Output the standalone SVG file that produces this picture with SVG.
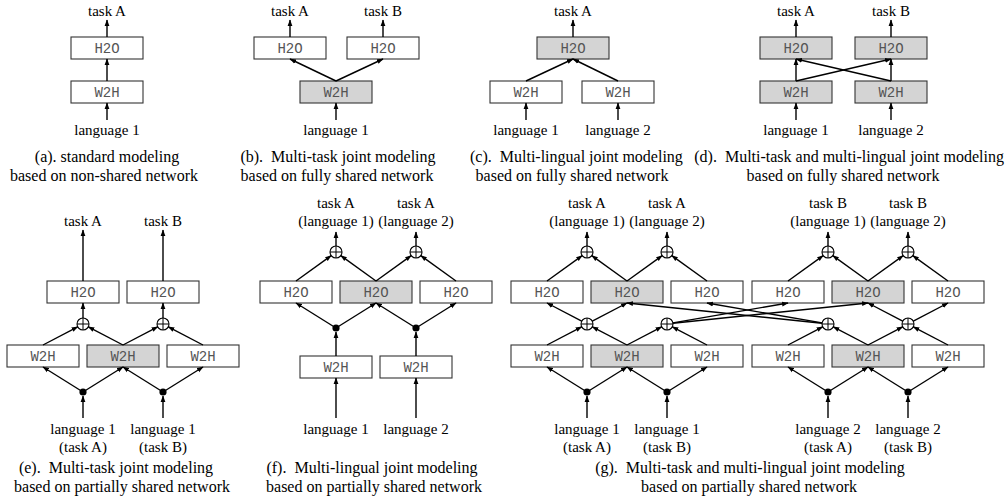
<svg xmlns="http://www.w3.org/2000/svg" width="1007" height="501" viewBox="0 0 1007 501">
<style>
.bx{fill:#fff;stroke:#333;stroke-width:1.1}
.sh{fill:#d4d4d4;stroke:#333;stroke-width:1.1}
.bl{font-family:"Liberation Mono",monospace;font-size:14px;fill:#555;text-anchor:middle}
.lb{font-family:"Liberation Serif",serif;font-size:15px;fill:#000;text-anchor:middle}
.cp{font-family:"Liberation Serif",serif;font-size:16px;fill:#000;text-anchor:middle}
.cn line{stroke:#000;stroke-width:1.4;marker-end:url(#ah)}
.pl{fill:#fff;stroke:#000;stroke-width:1.1}
.dt{fill:#000}
</style>
<defs>
<marker id="ah" markerWidth="8" markerHeight="6" refX="6" refY="3" orient="auto" markerUnits="userSpaceOnUse"><path d="M0,0.6 L6.5,3 L0,5.4 z" fill="#000"/></marker>
<g id="plus"><circle r="6" class="pl"/><line x1="-6" y1="0" x2="6" y2="0" stroke="#000" stroke-width="1"/><line x1="0" y1="-6" x2="0" y2="6" stroke="#000" stroke-width="1"/></g>
</defs>

<!-- (a) -->
<g id="a-h2o"><rect class="bx" x="71" y="37" width="72" height="22"/><text class="bl" x="107" y="53">H2O</text></g>
<g id="a-w2h"><rect class="bx" x="71" y="81" width="72" height="22"/><text class="bl" x="107" y="97">W2H</text></g>
<text class="lb" x="107" y="16">task A</text>
<text class="lb" x="107" y="135">language 1</text>
<text class="cp" x="107" y="162">(a). standard modeling</text>
<text class="cp" x="104" y="181">based on non-shared network</text>

<!-- (b) -->
<g id="b-h2o1"><rect class="bx" x="254" y="37" width="72" height="22"/><text class="bl" x="290" y="53">H2O</text></g>
<g id="b-h2o2"><rect class="bx" x="347" y="37" width="72" height="22"/><text class="bl" x="383" y="53">H2O</text></g>
<g id="b-w2h"><rect class="sh" x="300" y="81" width="72" height="22"/><text class="bl" x="336" y="97">W2H</text></g>
<text class="lb" x="290" y="16">task A</text>
<text class="lb" x="383" y="16">task B</text>
<text class="lb" x="336" y="135">language 1</text>
<text class="cp" x="338" y="162">(b).&#160; Multi-task joint modeling</text>
<text class="cp" x="337" y="181">based on fully shared network</text>

<!-- (c) -->
<g id="c-h2o"><rect class="sh" x="537" y="37" width="72" height="22"/><text class="bl" x="573" y="53">H2O</text></g>
<g id="c-w2h1"><rect class="bx" x="490" y="81" width="72" height="22"/><text class="bl" x="526" y="97">W2H</text></g>
<g id="c-w2h2"><rect class="bx" x="582" y="81" width="72" height="22"/><text class="bl" x="618" y="97">W2H</text></g>
<text class="lb" x="573" y="16">task A</text>
<text class="lb" x="526" y="135">language 1</text>
<text class="lb" x="618" y="135">language 2</text>
<text class="cp" x="470" y="162" style="text-anchor:start">(c).&#160; Multi-lingual joint modeling</text>
<text class="cp" x="572" y="181">based on fully shared network</text>

<!-- (d) -->
<g id="d-h2o1"><rect class="sh" x="760" y="37" width="72" height="22"/><text class="bl" x="796" y="53">H2O</text></g>
<g id="d-h2o2"><rect class="sh" x="855" y="37" width="72" height="22"/><text class="bl" x="891" y="53">H2O</text></g>
<g id="d-w2h1"><rect class="sh" x="760" y="81" width="72" height="22"/><text class="bl" x="796" y="97">W2H</text></g>
<g id="d-w2h2"><rect class="sh" x="855" y="81" width="72" height="22"/><text class="bl" x="891" y="97">W2H</text></g>
<text class="lb" x="796" y="16">task A</text>
<text class="lb" x="891" y="16">task B</text>
<text class="lb" x="796" y="135">language 1</text>
<text class="lb" x="891" y="135">language 2</text>
<text class="cp" x="1004" y="162" style="text-anchor:end">(d).&#160; Multi-task and multi-lingual joint modeling</text>
<text class="cp" x="843" y="181">based on fully shared network</text>

<!-- (e) -->
<g id="e-h2o1"><rect class="bx" x="47" y="281" width="72" height="22"/><text class="bl" x="83" y="297">H2O</text></g>
<g id="e-h2o2"><rect class="bx" x="127" y="281" width="72" height="22"/><text class="bl" x="163" y="297">H2O</text></g>
<g id="e-w2h1"><rect class="bx" x="7" y="345" width="72" height="22"/><text class="bl" x="43" y="361">W2H</text></g>
<g id="e-w2h2"><rect class="sh" x="87" y="345" width="72" height="22"/><text class="bl" x="123" y="361">W2H</text></g>
<g id="e-w2h3"><rect class="bx" x="167" y="345" width="72" height="22"/><text class="bl" x="203" y="361">W2H</text></g>
<g id="e-plus1"><use href="#plus" x="83" y="324"/></g>
<g id="e-plus2"><use href="#plus" x="163" y="324"/></g>
<g id="e-dot1"><circle class="dt" cx="83" cy="392" r="3.6"/></g>
<g id="e-dot2"><circle class="dt" cx="163" cy="392" r="3.6"/></g>
<text class="lb" x="83" y="226">task A</text>
<text class="lb" x="163" y="226">task B</text>
<text class="lb" x="83" y="434">language 1</text>
<text class="lb" x="83" y="452">(task A)</text>
<text class="lb" x="163" y="434">language 1</text>
<text class="lb" x="163" y="452">(task B)</text>
<text class="cp" x="116" y="473">(e).&#160; Multi-task joint modeling</text>
<text class="cp" x="122" y="492">based on partially shared network</text>

<!-- (f) -->
<g id="f-h2o1"><rect class="bx" x="260" y="281" width="72" height="22"/><text class="bl" x="296" y="297">H2O</text></g>
<g id="f-h2o2"><rect class="sh" x="340" y="281" width="72" height="22"/><text class="bl" x="376" y="297">H2O</text></g>
<g id="f-h2o3"><rect class="bx" x="420" y="281" width="72" height="22"/><text class="bl" x="456" y="297">H2O</text></g>
<g id="f-w2h1"><rect class="bx" x="300" y="356" width="72" height="22"/><text class="bl" x="336" y="372">W2H</text></g>
<g id="f-w2h2"><rect class="bx" x="380" y="356" width="72" height="22"/><text class="bl" x="416" y="372">W2H</text></g>
<g id="f-plus1"><use href="#plus" x="336" y="252"/></g>
<g id="f-plus2"><use href="#plus" x="416" y="252"/></g>
<g id="f-dot1"><circle class="dt" cx="336" cy="328" r="3.6"/></g>
<g id="f-dot2"><circle class="dt" cx="416" cy="328" r="3.6"/></g>
<text class="lb" x="336" y="208">task A</text>
<text class="lb" x="336" y="226">(language 1)</text>
<text class="lb" x="416" y="208">task A</text>
<text class="lb" x="416" y="226">(language 2)</text>
<text class="lb" x="336" y="434">language 1</text>
<text class="lb" x="416" y="434">language 2</text>
<text class="cp" x="372" y="473">(f).&#160; Multi-lingual joint modeling</text>
<text class="cp" x="374" y="492">based on partially shared network</text>

<!-- (g) -->
<g id="g-h2o1"><rect class="bx" x="511" y="281" width="72" height="22"/><text class="bl" x="547" y="297">H2O</text></g>
<g id="g-h2o2"><rect class="sh" x="591" y="281" width="72" height="22"/><text class="bl" x="627" y="297">H2O</text></g>
<g id="g-h2o3"><rect class="bx" x="671" y="281" width="72" height="22"/><text class="bl" x="707" y="297">H2O</text></g>
<g id="g-h2o4"><rect class="bx" x="752" y="281" width="72" height="22"/><text class="bl" x="788" y="297">H2O</text></g>
<g id="g-h2o5"><rect class="sh" x="832" y="281" width="72" height="22"/><text class="bl" x="868" y="297">H2O</text></g>
<g id="g-h2o6"><rect class="bx" x="912" y="281" width="72" height="22"/><text class="bl" x="948" y="297">H2O</text></g>
<g id="g-w2h1"><rect class="bx" x="511" y="345" width="72" height="22"/><text class="bl" x="547" y="361">W2H</text></g>
<g id="g-w2h2"><rect class="sh" x="591" y="345" width="72" height="22"/><text class="bl" x="627" y="361">W2H</text></g>
<g id="g-w2h3"><rect class="bx" x="671" y="345" width="72" height="22"/><text class="bl" x="707" y="361">W2H</text></g>
<g id="g-w2h4"><rect class="bx" x="752" y="345" width="72" height="22"/><text class="bl" x="788" y="361">W2H</text></g>
<g id="g-w2h5"><rect class="sh" x="832" y="345" width="72" height="22"/><text class="bl" x="868" y="361">W2H</text></g>
<g id="g-w2h6"><rect class="bx" x="912" y="345" width="72" height="22"/><text class="bl" x="948" y="361">W2H</text></g>
<g id="g-top1"><use href="#plus" x="587" y="252"/></g>
<g id="g-top2"><use href="#plus" x="667" y="252"/></g>
<g id="g-top3"><use href="#plus" x="828" y="252"/></g>
<g id="g-top4"><use href="#plus" x="908" y="252"/></g>
<g id="g-mid1"><use href="#plus" x="587" y="324"/></g>
<g id="g-mid2"><use href="#plus" x="667" y="324"/></g>
<g id="g-mid3"><use href="#plus" x="828" y="324"/></g>
<g id="g-mid4"><use href="#plus" x="908" y="324"/></g>
<g id="g-dot1"><circle class="dt" cx="587" cy="392" r="3.6"/></g>
<g id="g-dot2"><circle class="dt" cx="667" cy="392" r="3.6"/></g>
<g id="g-dot3"><circle class="dt" cx="828" cy="392" r="3.6"/></g>
<g id="g-dot4"><circle class="dt" cx="908" cy="392" r="3.6"/></g>
<text class="lb" x="587" y="208">task A</text>
<text class="lb" x="587" y="226">(language 1)</text>
<text class="lb" x="667" y="208">task A</text>
<text class="lb" x="667" y="226">(language 2)</text>
<text class="lb" x="828" y="208">task B</text>
<text class="lb" x="828" y="226">(language 1)</text>
<text class="lb" x="908" y="208">task B</text>
<text class="lb" x="908" y="226">(language 2)</text>
<text class="lb" x="587" y="434">language 1</text>
<text class="lb" x="587" y="452">(task A)</text>
<text class="lb" x="667" y="434">language 1</text>
<text class="lb" x="667" y="452">(task B)</text>
<text class="lb" x="828" y="434">language 2</text>
<text class="lb" x="828" y="452">(task A)</text>
<text class="lb" x="908" y="434">language 2</text>
<text class="lb" x="908" y="452">(task B)</text>
<text class="cp" x="750" y="473">(g).&#160; Multi-task and multi-lingual joint modeling</text>
<text class="cp" x="749" y="492">based on partially shared network</text>

<g id="connectors" class="cn">
<!-- a -->
<line x1="107" y1="120" x2="107" y2="103"/>
<line x1="107" y1="81" x2="107" y2="59"/>
<line x1="107" y1="37" x2="107" y2="20"/>
<!-- b -->
<line x1="336" y1="120" x2="336" y2="103"/>
<line x1="336" y1="81" x2="290" y2="59"/>
<line x1="336" y1="81" x2="383" y2="59"/>
<line x1="290" y1="37" x2="290" y2="20"/>
<line x1="383" y1="37" x2="383" y2="20"/>
<!-- c -->
<line x1="526" y1="120" x2="526" y2="103"/>
<line x1="618" y1="120" x2="618" y2="103"/>
<line x1="526" y1="81" x2="573" y2="59"/>
<line x1="618" y1="81" x2="573" y2="59"/>
<line x1="573" y1="37" x2="573" y2="20"/>
<!-- d -->
<line x1="796" y1="120" x2="796" y2="103"/>
<line x1="891" y1="120" x2="891" y2="103"/>
<line x1="796" y1="81" x2="796" y2="59"/>
<line x1="891" y1="81" x2="891" y2="59"/>
<line x1="796" y1="81" x2="891" y2="59"/>
<line x1="891" y1="81" x2="796" y2="59"/>
<line x1="796" y1="37" x2="796" y2="20"/>
<line x1="891" y1="37" x2="891" y2="20"/>
<!-- e -->
<line x1="83" y1="418" x2="83" y2="396"/>
<line x1="163" y1="418" x2="163" y2="396"/>
<line x1="83" y1="392" x2="43" y2="367"/>
<line x1="83" y1="392" x2="123" y2="367"/>
<line x1="163" y1="392" x2="123" y2="367"/>
<line x1="163" y1="392" x2="203" y2="367"/>
<line x1="43" y1="345" x2="77.7" y2="326.8"/>
<line x1="123" y1="345" x2="88.3" y2="326.8"/>
<line x1="123" y1="345" x2="157.7" y2="326.8"/>
<line x1="203" y1="345" x2="168.3" y2="326.8"/>
<line x1="83" y1="318" x2="83" y2="303"/>
<line x1="163" y1="318" x2="163" y2="303"/>
<line x1="83" y1="281" x2="83" y2="230"/>
<line x1="163" y1="281" x2="163" y2="230"/>
<!-- f -->
<line x1="336" y1="418" x2="336" y2="378"/>
<line x1="416" y1="418" x2="416" y2="378"/>
<line x1="336" y1="356" x2="336" y2="332"/>
<line x1="416" y1="356" x2="416" y2="332"/>
<line x1="336" y1="328" x2="296" y2="303"/>
<line x1="336" y1="328" x2="376" y2="303"/>
<line x1="416" y1="328" x2="376" y2="303"/>
<line x1="416" y1="328" x2="456" y2="303"/>
<line x1="296" y1="281" x2="331.2" y2="255.6"/>
<line x1="376" y1="281" x2="340.8" y2="255.6"/>
<line x1="376" y1="281" x2="411.2" y2="255.6"/>
<line x1="456" y1="281" x2="420.8" y2="255.6"/>
<line x1="336" y1="246" x2="336" y2="232"/>
<line x1="416" y1="246" x2="416" y2="232"/>
<!-- g -->
<line x1="587" y1="418" x2="587" y2="396"/>
<line x1="667" y1="418" x2="667" y2="396"/>
<line x1="828" y1="418" x2="828" y2="396"/>
<line x1="908" y1="418" x2="908" y2="396"/>
<line x1="587" y1="392" x2="547" y2="367"/>
<line x1="587" y1="392" x2="627" y2="367"/>
<line x1="667" y1="392" x2="627" y2="367"/>
<line x1="667" y1="392" x2="707" y2="367"/>
<line x1="828" y1="392" x2="788" y2="367"/>
<line x1="828" y1="392" x2="868" y2="367"/>
<line x1="908" y1="392" x2="868" y2="367"/>
<line x1="908" y1="392" x2="948" y2="367"/>
<line x1="547" y1="345" x2="581.7" y2="326.8"/>
<line x1="627" y1="345" x2="592.3" y2="326.8"/>
<line x1="627" y1="345" x2="661.7" y2="326.8"/>
<line x1="707" y1="345" x2="672.3" y2="326.8"/>
<line x1="788" y1="345" x2="822.7" y2="326.8"/>
<line x1="868" y1="345" x2="833.3" y2="326.8"/>
<line x1="868" y1="345" x2="902.7" y2="326.8"/>
<line x1="948" y1="345" x2="913.3" y2="326.8"/>
<line x1="581.7" y1="321.1" x2="547" y2="303"/>
<line x1="592.3" y1="321.1" x2="627" y2="303"/>
<line x1="672.9" y1="322.9" x2="788" y2="303"/>
<line x1="673" y1="323.3" x2="868" y2="303"/>
<line x1="822" y1="323.3" x2="627" y2="303"/>
<line x1="822.1" y1="322.9" x2="707" y2="303"/>
<line x1="902.7" y1="321.1" x2="868" y2="303"/>
<line x1="913.3" y1="321.1" x2="948" y2="303"/>
<line x1="547" y1="281" x2="582.2" y2="255.6"/>
<line x1="627" y1="281" x2="591.8" y2="255.6"/>
<line x1="627" y1="281" x2="662.2" y2="255.6"/>
<line x1="707" y1="281" x2="671.8" y2="255.6"/>
<line x1="788" y1="281" x2="823.2" y2="255.6"/>
<line x1="868" y1="281" x2="832.8" y2="255.6"/>
<line x1="868" y1="281" x2="903.2" y2="255.6"/>
<line x1="948" y1="281" x2="912.8" y2="255.6"/>
<line x1="587" y1="246" x2="587" y2="232"/>
<line x1="667" y1="246" x2="667" y2="232"/>
<line x1="828" y1="246" x2="828" y2="232"/>
<line x1="908" y1="246" x2="908" y2="232"/>
</g>
</svg>
